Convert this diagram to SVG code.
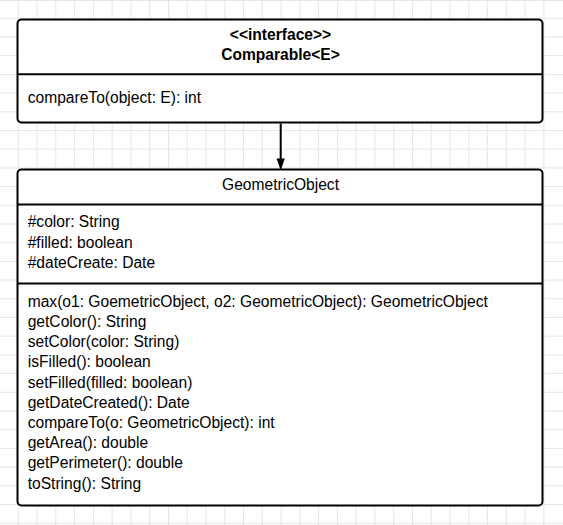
<svg xmlns="http://www.w3.org/2000/svg" width="563" height="525" viewBox="0 0 563 525">
<defs>
<style>
.grid{stroke:#e6e6e6;stroke-width:1;fill:none}
.box{fill:#ffffff;stroke:#000000;stroke-width:2}
.div{stroke:#000000;stroke-width:2}
.t{font-family:"Liberation Sans",Arial,sans-serif;font-size:15.6px;fill:#000000}
.b{font-weight:bold;text-anchor:middle}
.c{text-anchor:middle}
.conn{stroke:#000000;stroke-width:2;fill:none}
</style>
<marker id="arrow" markerWidth="12" markerHeight="16" refX="11" refY="5.5" orient="auto" markerUnits="userSpaceOnUse" viewBox="0 0 16 11">
<path d="M0,0 L16,5.5 L0,11 Z" fill="#000000"/>
</marker>
</defs>
<rect x="0" y="0" width="563" height="525" fill="#ffffff"/>
<path class="grid" d="M18.3,0V525M37.1,0V525M55.8,0V525M74.6,0V525M93.4,0V525M112.1,0V525M130.9,0V525M149.7,0V525M168.5,0V525M187.2,0V525M206,0V525M224.8,0V525M243.5,0V525M262.3,0V525M281.1,0V525M299.9,0V525M318.6,0V525M337.4,0V525M356.2,0V525M374.9,0V525M393.7,0V525M412.5,0V525M431.2,0V525M450,0V525M468.8,0V525M487.6,0V525M506.3,0V525M525.1,0V525M543.9,0V525M0,0.5H563M0,18.3H563M0,37H563M0,55.7H563M0,74.4H563M0,93.1H563M0,111.8H563M0,130.5H563M0,149.2H563M0,167.9H563M0,186.6H563M0,205.3H563M0,224H563M0,242.7H563M0,261.4H563M0,280.1H563M0,298.8H563M0,317.5H563M0,336.2H563M0,354.9H563M0,373.6H563M0,392.3H563M0,411H563M0,429.7H563M0,448.4H563M0,467.1H563M0,485.8H563M0,504.6H563M0,523.4H563"/>
<g id="comparable">
<rect class="box" x="17.5" y="19.5" width="525" height="103" rx="4" ry="4"/>
<line class="div" x1="17.5" y1="74.3" x2="542.5" y2="74.3"/>
<text class="t b" x="280.5" y="39.5">&lt;&lt;interface&gt;&gt;</text>
<text class="t b" x="280.5" y="60">Comparable&lt;E&gt;</text>
<text class="t" x="27.7" y="102.7">compareTo(object: E): int</text>
</g>
<g id="geometricobject">
<rect class="box" x="17.5" y="169.5" width="525" height="336" rx="4" ry="4"/>
<line class="div" x1="17.5" y1="204.5" x2="542.5" y2="204.5"/>
<line class="div" x1="17.5" y1="283.5" x2="542.5" y2="283.5"/>
<text class="t c" x="280.5" y="190">GeometricObject</text>
<text class="t" x="27.7" y="227.3">#color: String</text>
<text class="t" x="27.7" y="247.5">#filled: boolean</text>
<text class="t" x="27.7" y="267.7">#dateCreate: Date</text>
<text class="t" x="27.7" y="306.7">max(o1: GoemetricObject, o2: GeometricObject): GeometricObject</text>
<text class="t" x="27.7" y="326.9">getColor(): String</text>
<text class="t" x="27.7" y="347.1">setColor(color: String)</text>
<text class="t" x="27.7" y="367.3">isFilled(): boolean</text>
<text class="t" x="27.7" y="387.5">setFilled(filled: boolean)</text>
<text class="t" x="27.7" y="407.7">getDateCreated(): Date</text>
<text class="t" x="27.7" y="427.9">compareTo(o: GeometricObject): int</text>
<text class="t" x="27.7" y="448.1">getArea(): double</text>
<text class="t" x="27.7" y="468.3">getPerimeter(): double</text>
<text class="t" x="27.7" y="488.5">toString(): String</text>
</g>
<g id="connectors">
<line class="conn" x1="280.7" y1="123.5" x2="280.7" y2="166.7" marker-end="url(#arrow)"/>
</g>
</svg>
